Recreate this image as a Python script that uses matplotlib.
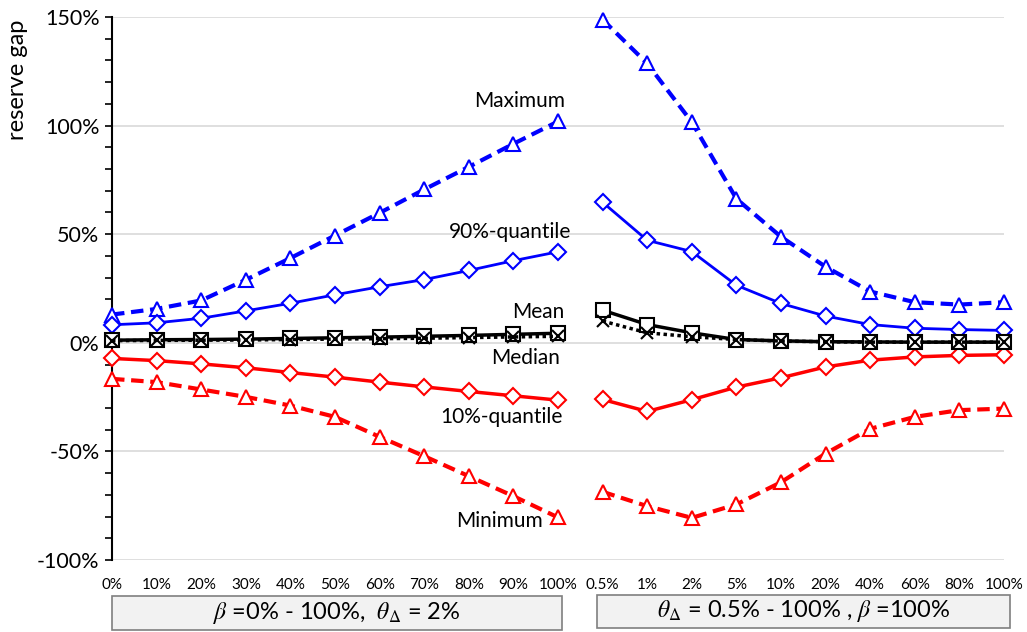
import matplotlib
matplotlib.use('Agg')
import matplotlib.pyplot as plt
from matplotlib.patches import Rectangle
from matplotlib.ticker import MultipleLocator, PercentFormatter
import numpy as np

plt.rcParams['font.family'] = ['Lato', 'DejaVu Sans']
plt.rcParams['mathtext.fontset'] = 'stix'
plt.rcParams['axes.unicode_minus'] = False

# x categories: beta sweep (left) and theta_delta sweep (right)
beta_labels = ['0%', '10%', '20%', '30%', '40%', '50%', '60%', '70%', '80%', '90%', '100%']
theta_labels = ['0.5%', '1%', '2%', '5%', '10%', '20%', '40%', '60%', '80%', '100%']

# reserve gap in %, left group
max_left = [13.0, 15.6, 19.5, 29.0, 39.0, 49.4, 59.8, 70.6, 81.0, 91.6, 101.9]
q90_left = [8.3, 9.2, 11.3, 14.7, 18.2, 22.1, 25.8, 29.1, 33.3, 37.8, 41.9]
mean_left = [1.2, 1.4, 1.5, 1.7, 2.0, 2.3, 2.6, 3.0, 3.4, 3.9, 4.4]
median_left = [1.0, 1.1, 1.2, 1.3, 1.5, 1.7, 1.9, 2.1, 2.4, 2.7, 3.0]
q10_left = [-7.2, -8.2, -9.7, -11.5, -13.7, -15.8, -18.1, -20.3, -22.4, -24.4, -26.4]
min_left = [-16.6, -18.1, -21.5, -24.9, -28.9, -34.1, -43.3, -52.2, -61.4, -70.6, -80.4]

# right group
max_right = [148.8, 128.6, 101.6, 66.3, 48.8, 35.0, 23.6, 18.7, 17.6, 18.7]
q90_right = [64.7, 47.2, 42.0, 26.5, 18.1, 12.3, 8.4, 6.7, 6.1, 5.7]
mean_right = [15.0, 8.4, 4.6, 1.5, 0.9, 0.5, 0.4, 0.3, 0.3, 0.3]
median_right = [10.0, 4.6, 2.8, 1.5, 0.8, 0.5, 0.3, 0.3, 0.3, 0.3]
q10_right = [-26.1, -31.6, -26.2, -20.4, -16.1, -11.1, -8.0, -6.5, -5.8, -5.5]
min_right = [-68.6, -75.2, -80.6, -74.4, -64.2, -51.0, -39.6, -34.1, -31.0, -30.3]

BLUE = '#0000FF'
RED = '#FF0000'

x_left = np.arange(len(beta_labels))
x_right = np.arange(len(theta_labels)) + len(beta_labels)

fig = plt.figure(figsize=(10.27, 6.32), dpi=100)
ax = fig.add_axes([112 / 1027, 72 / 632, (1004 - 112) / 1027, (560 - 17) / 632])

styles = [
    (max_left, max_right, dict(color=BLUE, ls=(0, (3, 1.6)), lw=3, marker='^', ms=10, mfc='white', mew=1.5)),
    (q90_left, q90_right, dict(color=BLUE, ls='-', lw=2, marker='D', ms=8, mfc='white', mew=1.5)),
    (q10_left, q10_right, dict(color=RED, ls='-', lw=2.5, marker='D', ms=8, mfc='white', mew=1.5)),
    (min_left, min_right, dict(color=RED, ls=(0, (3, 1.6)), lw=3, marker='^', ms=10, mfc='white', mew=1.5)),
    (mean_left, mean_right, dict(color='black', ls='-', lw=2.5, marker='s', ms=10, mfc='white', mew=1.5)),
    (median_left, median_right, dict(color='black', ls=(0, (1, 1)), lw=2.5, marker='x', ms=8, mew=1.5)),
]
for yl, yr, kw in styles:
    ax.plot(x_left, yl, clip_on=False, zorder=3, **kw)
    ax.plot(x_right, yr, clip_on=False, zorder=3, **kw)

ax.set_xlim(0, 20)
ax.set_ylim(-100, 150)
ax.yaxis.set_major_locator(MultipleLocator(50))
ax.yaxis.set_minor_locator(MultipleLocator(10))
ax.yaxis.set_major_formatter(PercentFormatter(decimals=0))
ax.grid(axis='y', which='major', color='#d9d9d9', lw=1.2, zorder=0)
ax.tick_params(axis='y', which='both', direction='out', length=5, width=1.2, labelsize=15.5, pad=4)
ax.tick_params(axis='y', which='minor', length=5)

ax.set_xticks(np.concatenate([x_left, x_right]))
ax.set_xticklabels(beta_labels + theta_labels, fontsize=11)
ax.tick_params(axis='x', length=0, pad=13)

for side in ['top', 'right', 'bottom']:
    ax.spines[side].set_visible(False)
ax.spines['left'].set_linewidth(1.5)
ax.spines['left'].set_color('black')

# series labels
labels = [('Maximum', 10.15, 111.5), ('90%-quantile', 10.3, 51), ('Mean', 10.15, 14),
          ('Median', 10.05, -6.9), ('10%-quantile', 10.1, -34), ('Minimum', 9.65, -82)]
for txt, lx, ly in labels:
    ax.text(lx, ly, txt, ha='right', va='center', fontsize=15)

fig.text(18 / 1027, 1 - 80 / 632, 'reserve gap', rotation=90, ha='center', va='center', fontsize=17)

# group boxes under the axis
boxes = [(112, 596, 562, 630, r'$\beta$ =0% - 100%,  $\theta_\Delta$ = 2%'),
         (597, 595, 1010, 628, r'$\theta_\Delta$ = 0.5% - 100% , $\beta$ =100%')]
for x0, y0, x1, y1, txt in boxes:
    fig.patches.append(Rectangle((x0 / 1027, 1 - y1 / 632), (x1 - x0) / 1027, (y1 - y0) / 632,
                                 transform=fig.transFigure, facecolor='#f2f2f2',
                                 edgecolor='#7f7f7f', lw=1.2))
    fig.text((x0 + x1) / 2 / 1027, 1 - (y0 + y1) / 2 / 632, txt, ha='center', va='center', fontsize=17)

fig.savefig('out.png', dpi=100)
